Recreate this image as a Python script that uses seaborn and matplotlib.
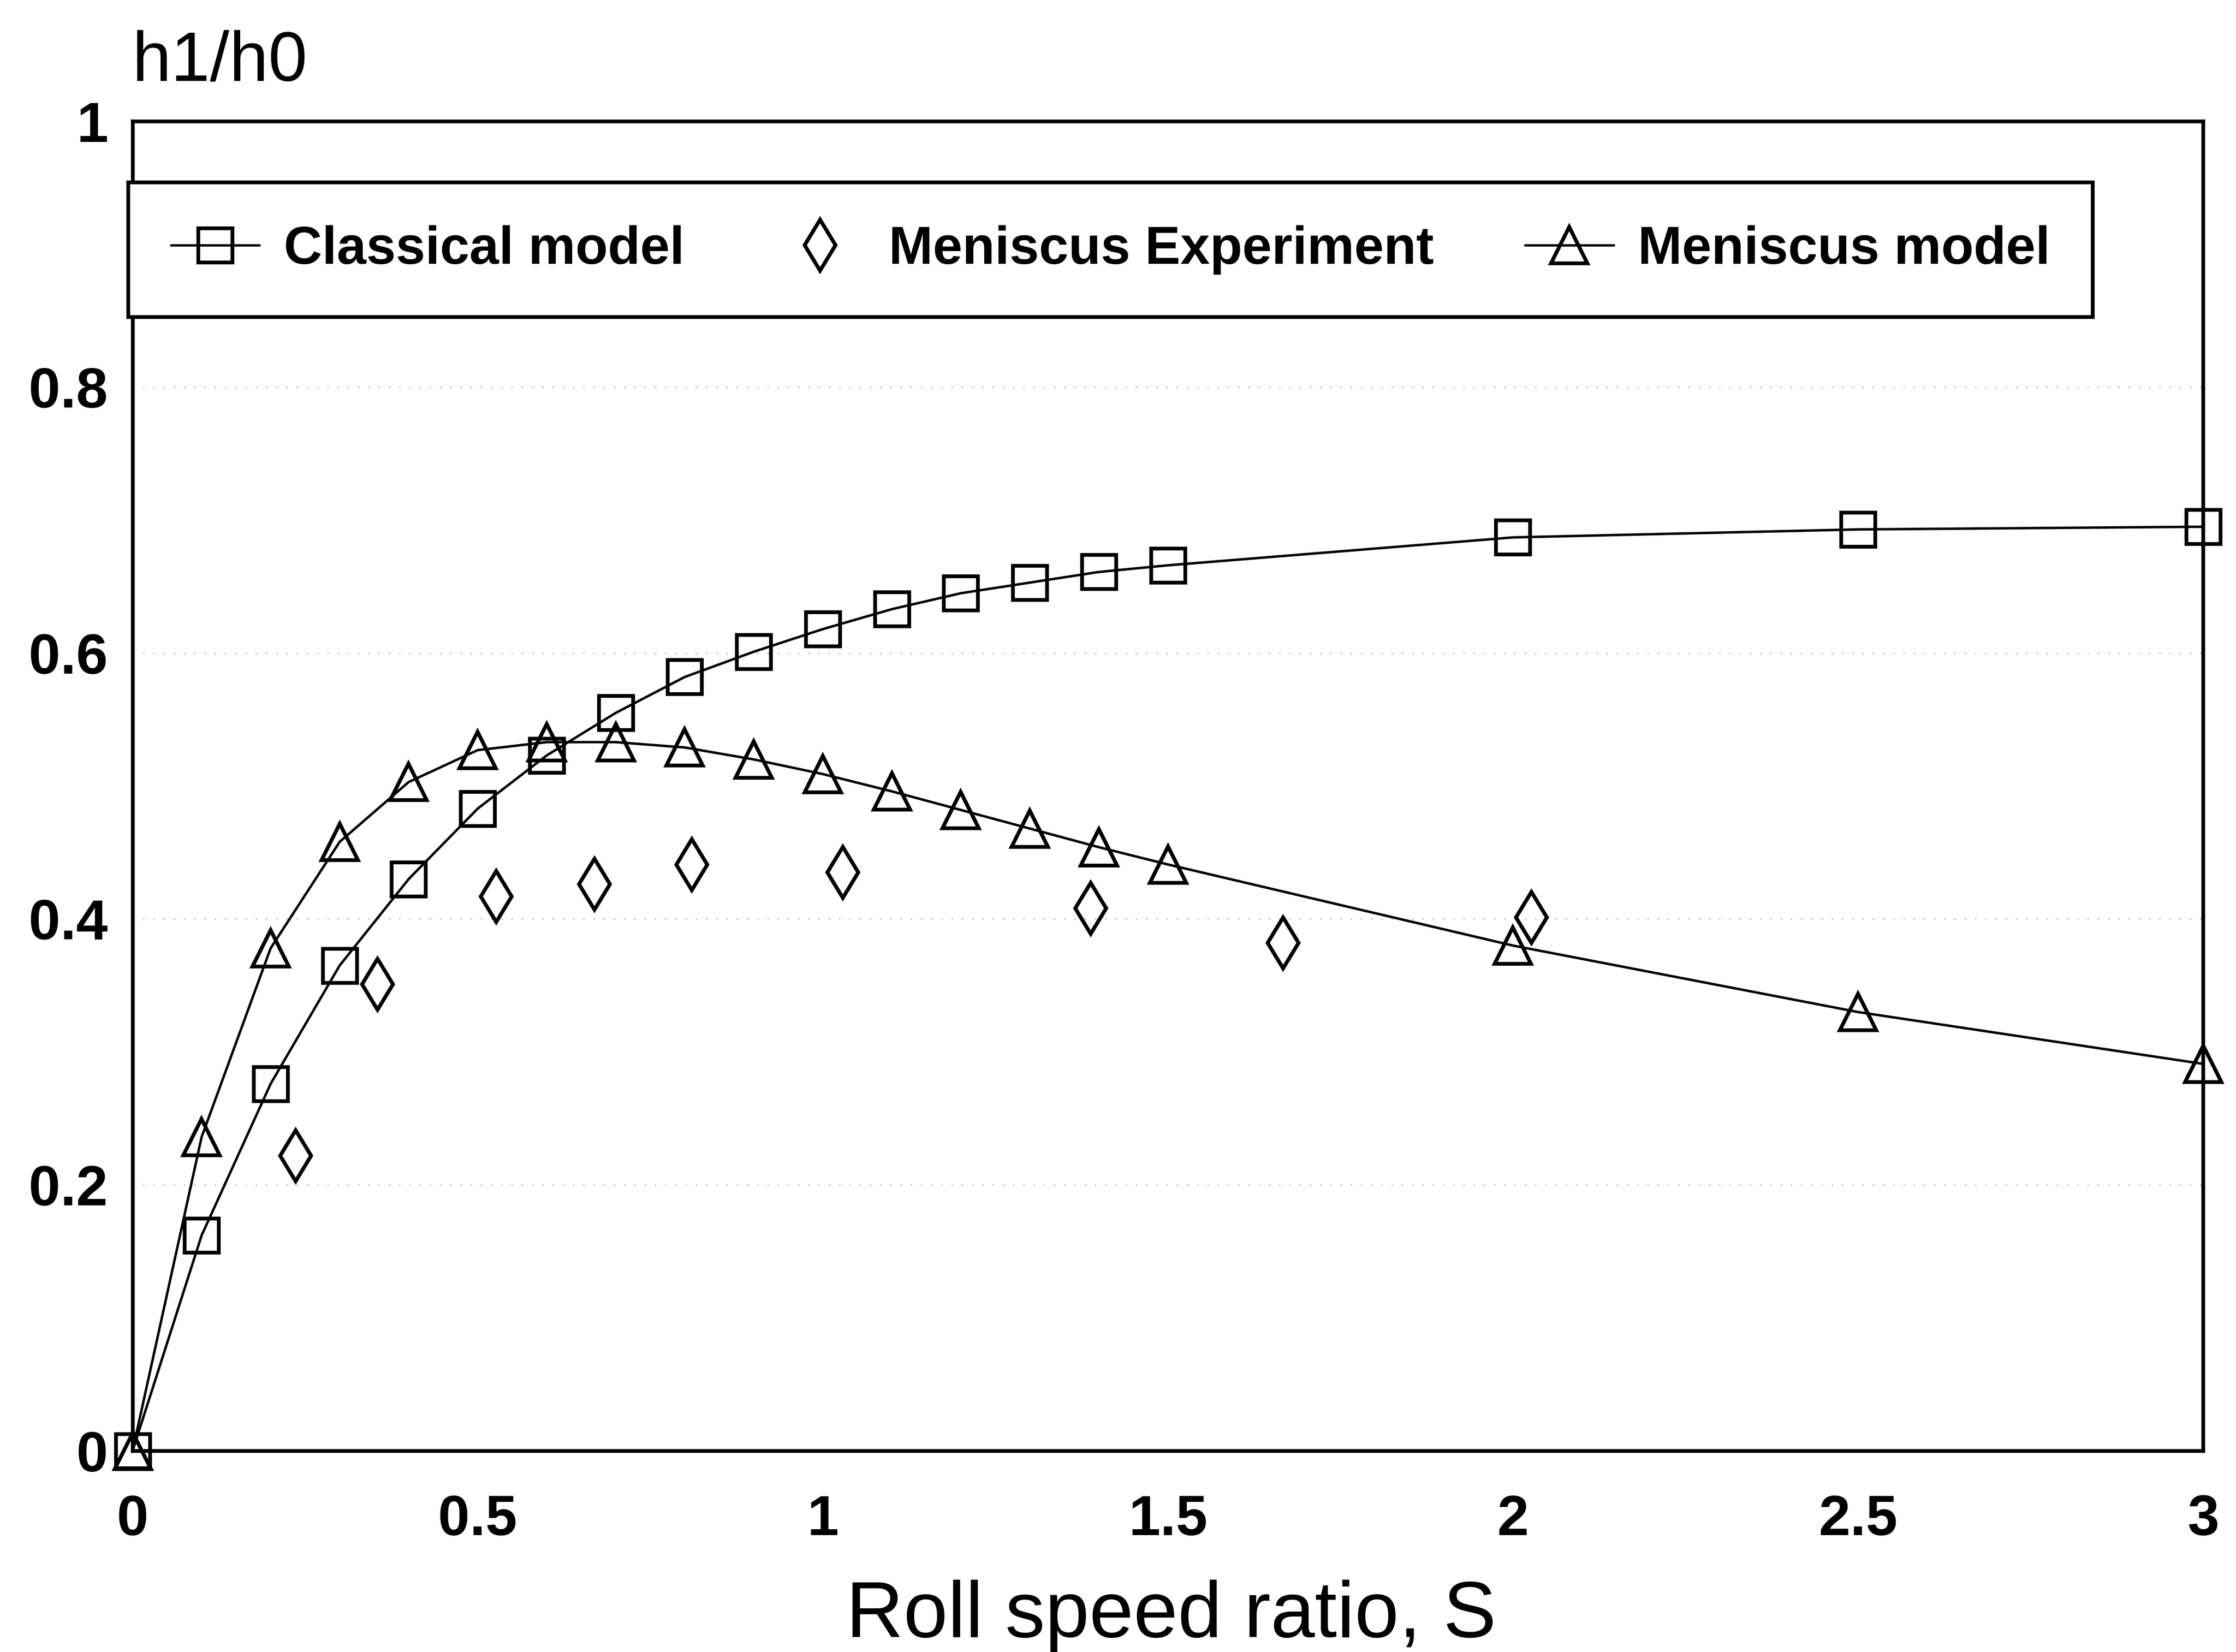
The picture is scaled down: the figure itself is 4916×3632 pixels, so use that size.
import matplotlib
matplotlib.use("Agg")
import matplotlib.pyplot as plt
import seaborn as sns
import pandas as pd

# Roll speed ratio S and exit thickness ratio h1/h0
s_model = [0.0, 0.1, 0.2, 0.3, 0.4, 0.5, 0.6, 0.7, 0.8, 0.9, 1.0,
           1.1, 1.2, 1.3, 1.4, 1.5, 2.0, 2.5, 3.0]
classical = [0.0, 0.162, 0.276, 0.365, 0.430, 0.483, 0.523, 0.555, 0.582,
             0.601, 0.618, 0.633, 0.645, 0.653, 0.661, 0.666, 0.687, 0.693, 0.695]
meniscus_model = [0.0, 0.236, 0.378, 0.458, 0.503, 0.527, 0.533, 0.533, 0.529,
                  0.520, 0.509, 0.496, 0.482, 0.468, 0.454, 0.441, 0.380, 0.330, 0.291]

s_exp = [0.236, 0.355, 0.527, 0.669, 0.810, 1.029, 1.388, 1.667, 2.027]
meniscus_exp = [0.222, 0.351, 0.417, 0.426, 0.441, 0.435, 0.408, 0.382, 0.401]

x_ticks = [0, 0.5, 1, 1.5, 2, 2.5, 3]
x_ticklabels = ["0", "0.5", "1", "1.5", "2", "2.5", "3"]
y_ticks = [0, 0.2, 0.4, 0.6, 0.8, 1.0]
y_ticklabels = ["0", "0.2", "0.4", "0.6", "0.8", "1"]

sns.set_theme(style="white")
plt.rcParams["font.family"] = ["Liberation Sans", "DejaVu Sans"]
plt.rcParams["text.color"] = "black"
plt.rcParams["xtick.color"] = "black"
plt.rcParams["ytick.color"] = "black"

W, H, DPI = 4916, 3632, 300
fig = plt.figure(figsize=(W / DPI, H / DPI), dpi=DPI, facecolor="white")
ax = fig.add_axes([0.0593, 0.1218, 0.926, 0.8048])
ax.set_facecolor("white")

df_model = pd.DataFrame({"S": s_model, "classical": classical, "meniscus": meniscus_model})
df_exp = pd.DataFrame({"S": s_exp, "exp": meniscus_exp})

common = dict(color="black", linewidth=1.3, markerfacecolor="none",
              markeredgecolor="black", markeredgewidth=2.0, estimator=None,
              clip_on=False, ax=ax)

sns.lineplot(data=df_model, x="S", y="classical", marker="s", markersize=18,
             label="Classical model", **common)
sns.lineplot(data=df_exp, x="S", y="exp", marker="d", markersize=19, linestyle="",
             label="Meniscus Experiment", **common)
sns.lineplot(data=df_model, x="S", y="meniscus", marker="^", markersize=19,
             label="Meniscus model", **common)

ax.set_xlim(0, 3)
ax.set_ylim(0, 1)
ax.set_xticks(x_ticks)
ax.set_xticklabels(x_ticklabels)
ax.set_yticks(y_ticks)
ax.set_yticklabels(y_ticklabels)
ax.set_xlabel("")
ax.set_ylabel("")

# faint dotted guide lines
for yv in y_ticks[1:-1]:
    ax.axhline(yv, color="#9a9a9a", linewidth=0.6, linestyle=(0, (1, 8)), zorder=0)

for sp in ax.spines.values():
    sp.set_visible(True)
    sp.set_color("black")
    sp.set_linewidth(2.0)

ax.tick_params(axis="both", direction="in", length=13, width=1.2, colors="black",
               labelsize=30)
ax.tick_params(axis="x", pad=23)
ax.tick_params(axis="y", pad=13)
for lab in ax.get_xticklabels() + ax.get_yticklabels():
    lab.set_fontweight("bold")
    lab.set_color("black")

fig.text(0.059, 0.951, "h1/h0", fontsize=37, ha="left", va="baseline", color="black")
fig.text(0.5237, 0.009, "Roll speed ratio, S", fontsize=42, ha="center",
         va="baseline", color="black")

leg = ax.legend(loc="upper left", bbox_to_anchor=(0.0574, 0.8895),
                bbox_transform=fig.transFigure, ncol=3,
                frameon=True, fancybox=False, shadow=False, borderaxespad=0,
                borderpad=0.8, handlelength=1.67, handletextpad=0.46,
                columnspacing=1.72,
                prop={"family": "Liberation Sans", "weight": "bold", "size": 28})
leg.get_frame().set_edgecolor("black")
leg.get_frame().set_linewidth(2.0)
leg.get_frame().set_facecolor("white")
leg.get_frame().set_alpha(1.0)
for t in leg.get_texts():
    t.set_fontweight("bold")
    t.set_color("black")

fig.savefig("out.png", dpi=DPI, facecolor="white")
